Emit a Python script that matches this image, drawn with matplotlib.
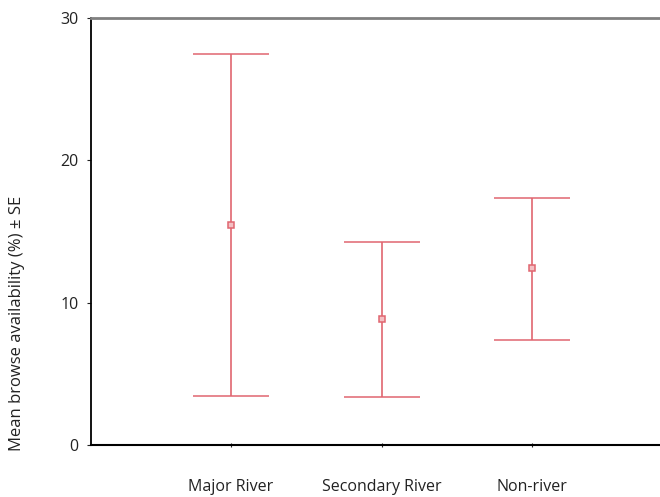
import matplotlib.pyplot as plt

plt.rcParams['font.family'] = ['Open Sans', 'DejaVu Sans']

categories = ['Major River', 'Secondary River', 'Non-river']
means = [15.45, 8.85, 12.45]
upper = [27.45, 14.25, 17.35]
lower = [3.45, 3.35, 7.4]

line_col = '#e06670'

fig = plt.figure(figsize=(6.6, 4.97), dpi=100)
ax = fig.add_axes([91 / 660, 1 - 445 / 497, 1 - 91 / 660, (445 - 18) / 497])

xs = [1, 2, 3]
err_lo = [m - lo for m, lo in zip(means, lower)]
err_hi = [hi - m for m, hi in zip(means, upper)]
ax.errorbar(xs, means, yerr=[err_lo, err_hi], fmt='s', color=line_col,
            ecolor=line_col, elinewidth=1.2, capsize=27.5, capthick=1.2,
            markersize=5, markerfacecolor='#f4c0c4', markeredgecolor=line_col,
            markeredgewidth=1.1)

ax.set_xlim(0.07, 3.85)
ax.set_ylim(0, 30)
ax.set_yticks([0, 10, 20, 30])
ax.set_xticks(xs)
ax.set_xticklabels(categories)

ax.spines['right'].set_visible(False)
ax.spines['top'].set_color('#808080')
ax.spines['top'].set_linewidth(2)
ax.spines['left'].set_linewidth(1.3)
ax.spines['bottom'].set_linewidth(1.5)

ax.tick_params(axis='y', length=3, width=0.8, labelsize=11.5, pad=6,
               colors='#222222')
ax.tick_params(axis='x', length=3, width=0.8, labelsize=11.5, pad=23,
               colors='#222222', direction='inout')

fig.text(17 / 660, 1 - 323 / 497, 'Mean browse availability (%) ± SE',
         rotation=90, ha='center', va='center', fontsize=12, color='#222222')

fig.savefig('out.png', dpi=100)
